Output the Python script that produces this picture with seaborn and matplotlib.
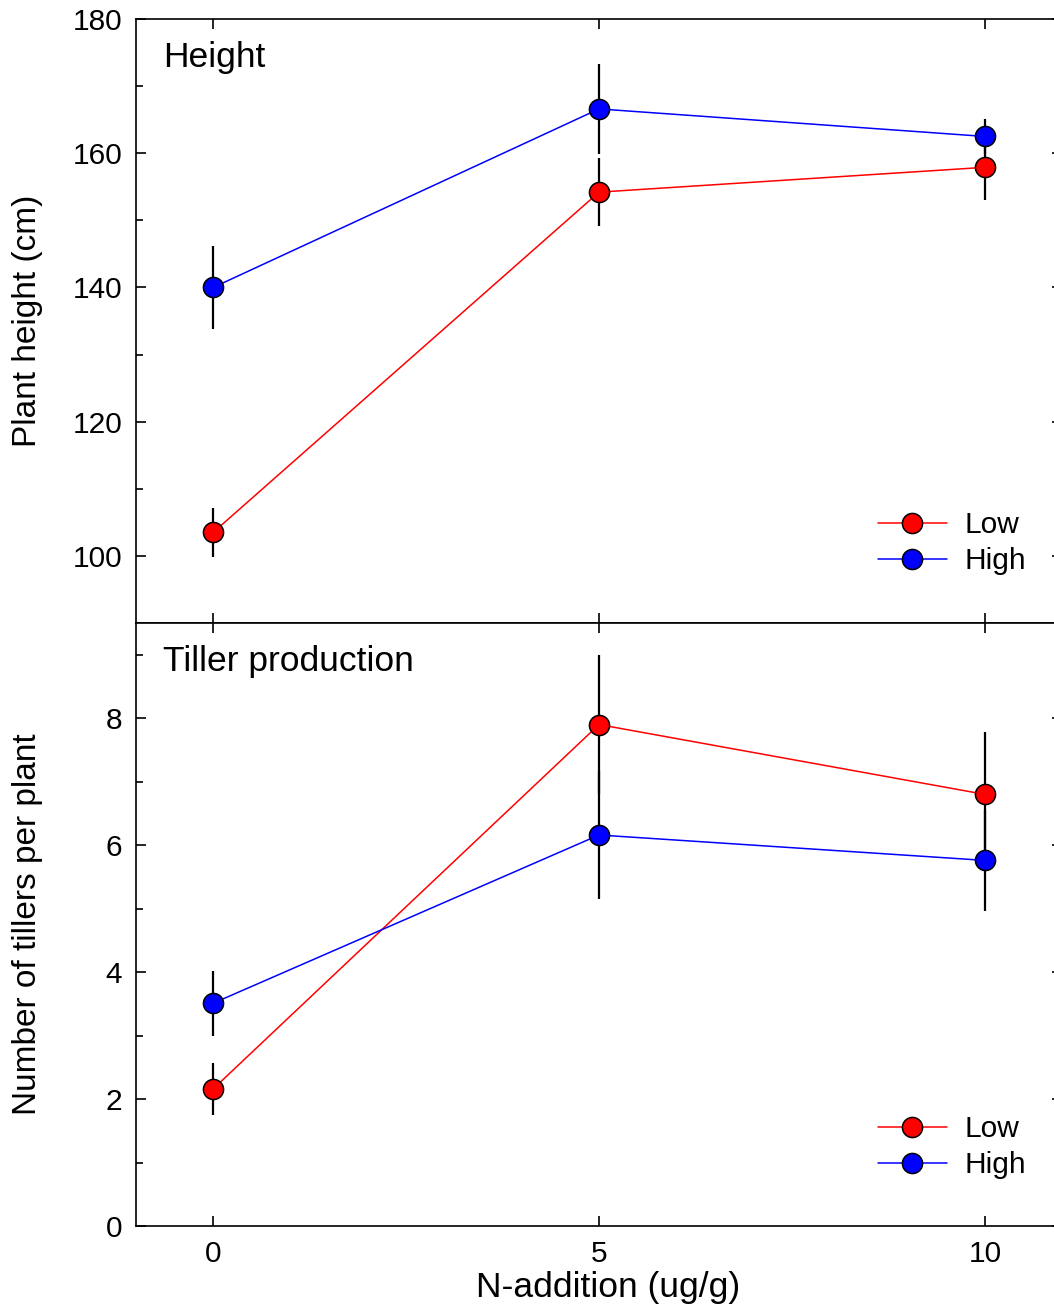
import matplotlib
matplotlib.use("Agg")
import matplotlib.pyplot as plt
import seaborn as sns
import pandas as pd
from matplotlib.ticker import MultipleLocator
from matplotlib.lines import Line2D

sns.set_style("white")
plt.rcParams['font.family'] = ['Liberation Sans', 'DejaVu Sans']
plt.rcParams['text.color'] = 'black'
plt.rcParams['axes.labelcolor'] = 'black'
plt.rcParams['xtick.color'] = 'black'
plt.rcParams['ytick.color'] = 'black'

n_levels = [0, 5, 10]
groups = ["Low", "High"]

height_low = [103.5, 154.2, 157.9]
height_low_err = [3.6, 5.1, 4.8]
height_high = [140.0, 166.6, 162.5]
height_high_err = [6.2, 6.7, 2.6]

tiller_low = [2.16, 7.9, 6.8]
tiller_low_err = [0.41, 1.09, 0.98]
tiller_high = [3.51, 6.16, 5.76]
tiller_high_err = [0.51, 1.01, 0.8]

palette = {"Low": "#ff0000", "High": "#0000ff"}


def make_df(low, low_err, high, high_err):
    rows = []
    for x, y, e in zip(n_levels, low, low_err):
        rows.append({"N": x, "val": y, "err": e, "Group": "Low"})
    for x, y, e in zip(n_levels, high, high_err):
        rows.append({"N": x, "val": y, "err": e, "Group": "High"})
    return pd.DataFrame(rows)


df_h = make_df(height_low, height_low_err, height_high, height_high_err)
df_t = make_df(tiller_low, tiller_low_err, tiller_high, tiller_high_err)

W, H = 1054, 1307
fig = plt.figure(figsize=(W / 100, H / 100), dpi=100)
left = 136 / W
right_px = 1062
ax1 = fig.add_axes([left, 1 - 623 / H, (right_px - 136) / W, (623 - 19) / H])
ax2 = fig.add_axes([left, 1 - 1226 / H, (right_px - 136) / W, (1226 - 623) / H])

fs_tick = 21.5
fs_title = 25.5
fs_ylab = 24
fs_xlab = 25.5
fs_leg = 21.5


def draw(ax, df, ylim, major, minor, title, ylabel, leg_y):
    for g in groups:
        sub = df[df.Group == g]
        ax.errorbar(sub.N, sub.val, yerr=sub.err, fmt='none', ecolor='black',
                    elinewidth=1.6, capsize=0, zorder=2)
    sns.lineplot(data=df, x="N", y="val", hue="Group", hue_order=groups,
                 palette=palette, marker='o', markersize=14.5,
                 markeredgecolor='black', markeredgewidth=1.1, linewidth=1.1,
                 errorbar=None, legend=False, ax=ax, zorder=3)
    ax.set_xlim(-1, 11)
    ax.set_ylim(*ylim)
    ax.yaxis.set_major_locator(MultipleLocator(major))
    ax.yaxis.set_minor_locator(MultipleLocator(minor))
    ax.set_xticks(n_levels)
    ax.tick_params(which='both', direction='in', top=True, right=True,
                   left=True, bottom=True, labelsize=fs_tick, width=1.2,
                   color='black', labelcolor='black', pad=10)
    ax.tick_params(which='major', length=7.5)
    ax.tick_params(which='minor', length=5)
    for s in ax.spines.values():
        s.set_linewidth(1.2)
        s.set_color('black')
    ax.set_ylabel(ylabel, fontsize=fs_ylab, color='black')
    ax.set_xlabel("")
    ax.text(27 / 926, 0.963, title, transform=ax.transAxes, fontsize=fs_title,
            va='top', ha='left', color='black')
    handles = [Line2D([0], [0], color=palette[g], lw=1.1, marker='o',
                      markersize=14.5, markerfacecolor=palette[g],
                      markeredgecolor='black', markeredgewidth=1.1)
               for g in groups]
    leg = ax.legend(handles, groups, loc='center left',
                    bbox_to_anchor=((878 - 136) / 926, leg_y),
                    frameon=False, fontsize=fs_leg, handlelength=2.3,
                    handletextpad=0.6, labelspacing=0.27, borderpad=0,
                    borderaxespad=0)
    for t in leg.get_texts():
        t.set_color('black')


draw(ax1, df_h, (90, 180), 20, 10, "Height", "Plant height (cm)",
     (623 - 543) / 604)
draw(ax2, df_t, (0, 9.5), 2, 1, "Tiller production",
     "Number of tillers per plant", (1226 - 1147) / 603)

ax1.tick_params(labelbottom=False)
ax1.set_yticks([100, 120, 140, 160, 180])
ax2.set_yticks([0, 2, 4, 6, 8])
ax2.set_xlabel("N-addition (ug/g)", fontsize=fs_xlab, color='black')
ax2.xaxis.set_label_coords((608 - 136) / 926, -(1271 - 1226) / 603)
ax1.yaxis.set_label_coords(-0.1, 0.5)
ax2.yaxis.set_label_coords(-0.1, 0.5)

fig.savefig("out.png", dpi=100)
